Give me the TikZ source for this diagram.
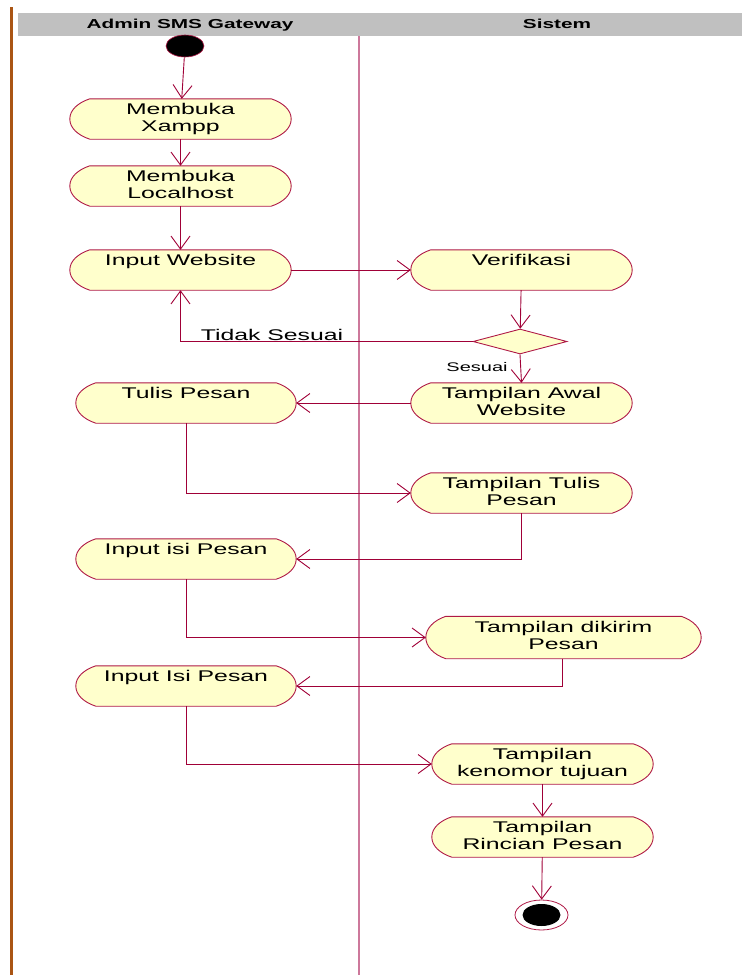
\documentclass[tikz,border=0pt]{standalone}
\usepackage{fontspec}
\setmainfont{Liberation Sans}[FakeStretch=1.6]
\usetikzlibrary{arrows.meta,shapes.geometric,backgrounds,calc}
\definecolor{actfill}{RGB}{255,255,204}
\definecolor{actline}{RGB}{175,25,70}
\definecolor{edgecol}{RGB}{160,0,55}
\definecolor{lanecol}{RGB}{205,120,155}
\definecolor{leftcol}{RGB}{170,85,20}
\definecolor{headgrey}{RGB}{192,192,192}
\begin{document}
\begin{tikzpicture}[x=1pt,y=-1pt,
  act/.style={rectangle, inner sep=0pt, minimum height=40pt, minimum width=221pt,
    align=center, font=\fontsize{15.5}{17}\selectfont, text height=11pt, text depth=21pt},
  acttwo/.style={act, text height=28pt, text depth=4pt},
  actshape/.style={fill=actfill, draw=actline, line width=0.9pt},
  flow/.style={draw=edgecol, line width=0.9pt,
    -{Straight Barb[length=13pt,width=19pt]}},
  lbl/.style={font=\fontsize{15.5}{17}\selectfont, anchor=base, inner sep=0pt},
  head/.style={font=\bfseries\fontsize{13}{15}\selectfont, anchor=base, inner sep=0pt}
]
\useasboundingbox (0,0) rectangle (742,975);
% swimlanes
\fill[headgrey] (18,13) rectangle (742,36);
\node[head] (h1) at (190,28) {Admin SMS Gateway};
\node[head] (h2) at (557,28) {Sistem};
\draw[leftcol, line width=2.2pt] (11.5,7) -- (11.5,975);
\draw[lanecol, line width=1.6pt] (359,36) -- (359,975);

% nodes
\node[ellipse, fill=black, draw=actline, line width=0.6pt, minimum width=38pt, minimum height=22pt, inner sep=0pt] (start) at (185,46) {};
\node[acttwo] (xampp) at (180.5,119) {Membuka\\Xampp};
\node[acttwo] (local) at (180.5,186) {Membuka\\Localhost};
\node[act] (inweb) at (180.5,270) {Input Website};
\node[act, minimum width=220pt] (tulis) at (186,403) {Tulis Pesan};
\node[act, minimum width=220pt] (inisi) at (186,559) {Input isi Pesan};
\node[act, minimum width=220pt] (inIsi) at (186,686) {Input Isi Pesan};
\node[act] (verif) at (521.5,270) {Verifikasi};
\node[diamond, actshape, minimum width=94pt, minimum height=25pt, inner sep=0pt, aspect=3.76] (dec) at (520,341.5) {};
\node[acttwo] (awal) at (521.5,403) {Tampilan Awal\\Website};
\node[acttwo] (ttulis) at (521.5,493) {Tampilan Tulis\\Pesan};
\node[acttwo, minimum width=275pt, minimum height=42pt] (kirim) at (563.5,637.5) {Tampilan dikirim\\Pesan};
\node[acttwo] (tujuan) at (542.5,764) {Tampilan\\kenomor tujuan};
\node[acttwo] (rinci) at (542.5,837) {Tampilan\\Rincian Pesan};
\node[ellipse, draw=actline, line width=0.8pt, fill=white, minimum width=53pt, minimum height=30pt, inner sep=0pt] (end) at (541.5,915) {};
\node[ellipse, fill=black, minimum width=38pt, minimum height=22pt, inner sep=0pt] (endin) at (end.center) {};

\begin{scope}[on background layer]
\foreach \n in {xampp,local,inweb,tulis,inisi,inIsi,verif,awal,ttulis,kirim,tujuan,rinci}{
  \path[actshape] ($(\n.north west)+(20,0)$) -- ($(\n.north east)+(-20,0)$)
    .. controls ($(\n.north east)+(-8,4)$) and ($(\n.east)+(0,-9)$) .. (\n.east)
    .. controls ($(\n.east)+(0,9)$) and ($(\n.south east)+(-8,-4)$) .. ($(\n.south east)+(-20,0)$)
    -- ($(\n.south west)+(20,0)$)
    .. controls ($(\n.south west)+(8,-4)$) and ($(\n.west)+(0,9)$) .. (\n.west)
    .. controls ($(\n.west)+(0,-9)$) and ($(\n.north west)+(8,4)$) .. cycle;
}
\end{scope}

% labels
\node[lbl] (tidak) at (272,340) {Tidak Sesuai};
\node[lbl, font=\fontsize{12.5}{14}\selectfont] (sesuai) at (477,371) {Sesuai};

% connectors
\draw[flow] (start) -- (xampp);
\draw[flow] (xampp) -- (local);
\draw[flow] (local) -- (inweb);
\draw[flow] (inweb) -- (verif);
\draw[flow] (verif) -- (dec);
\draw[flow] (dec.west) -| (inweb.south);
\draw[flow] (dec.south) -- (awal.north);
\draw[flow] (awal) -- (tulis);
\draw[flow] (tulis.south) |- (ttulis.west);
\draw[flow] (ttulis.south) |- (inisi.east);
\draw[flow] (inisi.south) |- (kirim.west);
\draw[flow] ($(kirim.south)+(-1.5,0)$) |- (inIsi.east);
\draw[flow] (inIsi.south) |- (tujuan.west);
\draw[flow] (tujuan) -- (rinci);
\draw[flow] (rinci) -- (end);
\end{tikzpicture}
\end{document}
